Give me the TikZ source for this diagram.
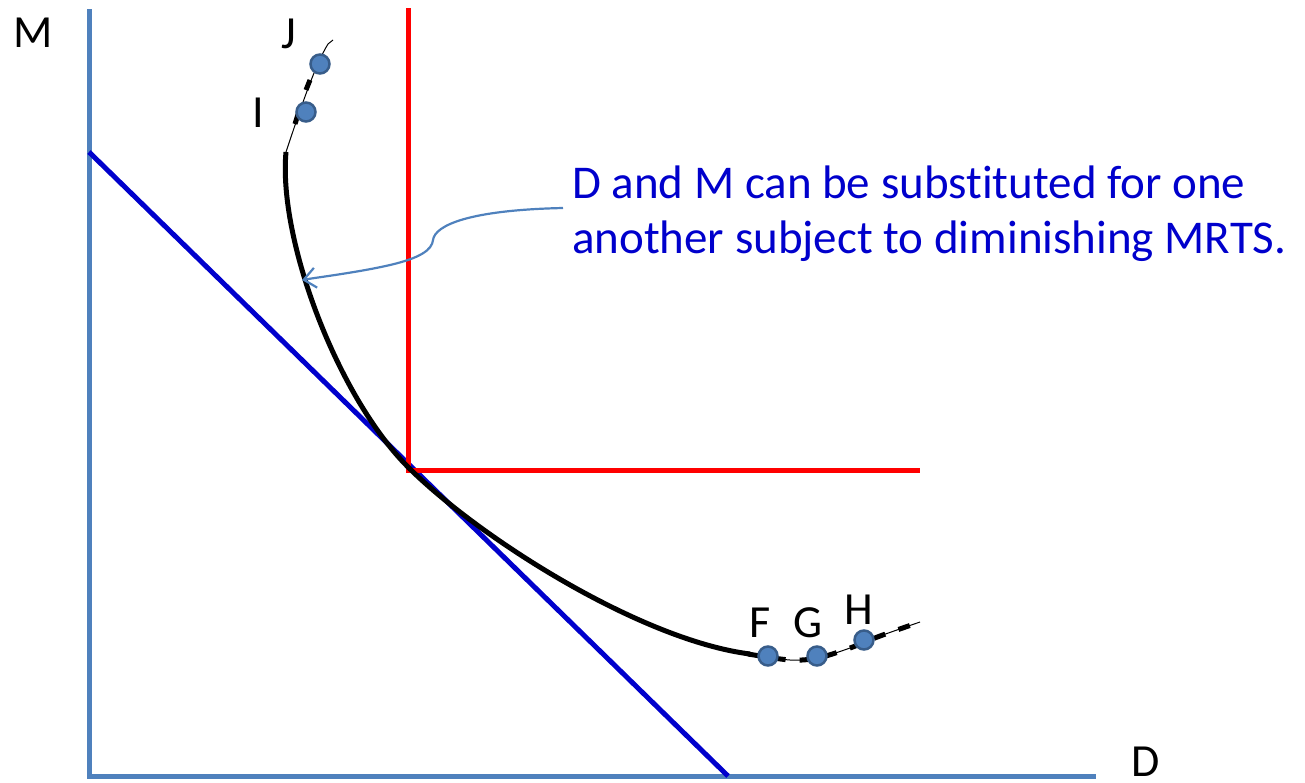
\documentclass[tikz,border=0pt]{standalone}
\usepackage{fontspec}
\setmainfont[Ligatures=NoCommon]{Carlito}
\usetikzlibrary{arrows.meta}
\definecolor{axisblue}{HTML}{4F81BD}
\definecolor{ptedge}{HTML}{385D8A}
\definecolor{budget}{HTML}{0000CC}
\definecolor{txtblue}{HTML}{0000CC}
\tikzset{
  axisline/.style={draw=axisblue,line width=5pt},
  redline/.style={draw=red,line width=5pt},
  budgetline/.style={draw=budget,line width=5pt},
  curvemain/.style={draw=black,line width=5pt},
  curvethin/.style={draw=black,line width=1pt},
  curvedash/.style={draw=black,line width=5pt,dash pattern=on 12pt off 14pt},
  pt/.style={circle,fill=axisblue,draw=ptedge,line width=2.5pt,minimum size=19pt,inner sep=0pt},
  lbl/.style={font=\fontsize{46}{50}\selectfont,inner sep=0pt,anchor=base},
  note/.style={font=\fontsize{47}{55}\selectfont,text=txtblue,inner sep=0pt,anchor=base west},
  callout/.style={draw=axisblue,line width=2.2pt,-{Straight Barb[length=12pt,width=20pt,line width=2.2pt]}}
}
\begin{document}
\begin{tikzpicture}[x=1pt,y=-1pt]
\useasboundingbox (0,0) rectangle (1305,782);
% axes
\coordinate (o) at (89,776);
\coordinate (ytop) at (89,9);
\coordinate (xend) at (1096,776);
\draw[axisline] (ytop) -- (o) -- (xend);
% budget line
\coordinate (b1) at (89,152);
\coordinate (b2) at (728,776);
\draw[budgetline] (b1) -- (b2);
% red L
\coordinate (r1) at (408,8);
\coordinate (r2) at (408,470);
\coordinate (r3) at (920,470);
\draw[redline] (r1) -- (r2) -- (r3);
% curve
\draw[curvethin] (333,40) -- (328,44) .. controls (315,65) and (300,110) .. (286,152);
\draw[curvemain] (310,80) -- (306,90);
\draw[curvemain] (300,108) -- (295,124);
\draw[curvemain] (286,152) .. controls (278,240) and (338,397) .. (408,467) .. controls (478,537) and (640,640) .. (750,654);
\draw[curvethin] plot[smooth] coordinates {(748,654) (790,660) (818,658) (850,648) (880,636) (920,622)};
\draw[curvedash] plot[smooth] coordinates {(748,654) (790,660) (818,658) (850,648) (880,636) (920,622)};
% points
\node[pt] (J) at (320,64) {};
\node[pt] (I) at (306,112) {};
\node[pt] (F) at (768,656) {};
\node[pt] (G) at (817,656) {};
\node[pt] (H) at (864,640) {};
% labels
\node[lbl] (lM) at (33,47) {M};
\node[lbl] (lJ) at (289,48) {J};
\node[lbl] (lI) at (258,127) {I};
\node[lbl] (lF) at (760,637) {F};
\node[lbl] (lG) at (808,637) {G};
\node[lbl] (lH) at (859,624) {H};
\node[lbl] (lD) at (1146,776) {D};
% note
\node[note] (txt1) at (572,198) {D and M can be substituted for one};
\node[note] (txt2) at (572,253) {another subject to diminishing MRTS.};
\coordinate (cs) at (563,208);
\coordinate (ce) at (302,280);
\draw[callout] (cs) .. controls (470,210) and (435,225) .. (433,240) .. controls (432,250) and (420,258) .. (390,265) .. controls (360,272) and (320,277) .. (ce);
\end{tikzpicture}
\end{document}
